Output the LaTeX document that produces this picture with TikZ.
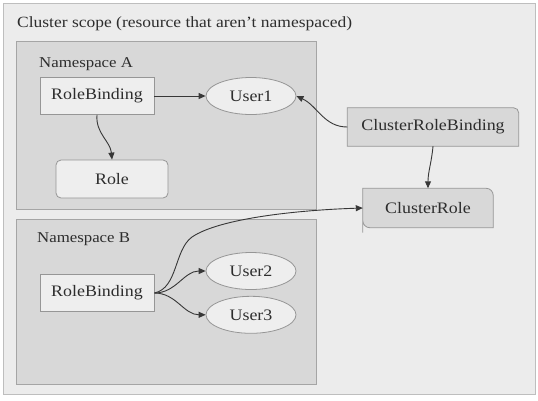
\documentclass[tikz,border=0pt]{standalone}
\usepackage{fontspec}
\setmainfont{Liberation Serif}[FakeStretch=1.12]
\usetikzlibrary{arrows.meta,positioning,shapes.geometric}
\definecolor{kbpage}{RGB}{236,236,236}
\definecolor{kbframe}{RGB}{190,190,190}
\definecolor{kbns}{RGB}{216,216,216}
\definecolor{kbnsedge}{RGB}{165,165,165}
\definecolor{kbnode}{RGB}{238,238,238}
\definecolor{kbcl}{RGB}{216,216,216}
\definecolor{kbedge}{RGB}{150,150,150}
\definecolor{kbarr}{RGB}{55,55,55}
\definecolor{kbtext}{RGB}{45,45,45}
\tikzset{
  kbbox/.style={
    draw=kbedge, line width=0.8pt, fill=kbnode, text=kbtext,
    align=center, inner sep=3pt, font=\fontsize{16}{18}\selectfont
  },
  bind/.style={kbbox, minimum width=114pt, minimum height=37pt},
  role/.style={kbbox, rounded corners=5pt, minimum width=112pt, minimum height=38pt},
  user/.style={kbbox, ellipse, minimum width=90pt, minimum height=37pt, inner sep=0pt},
  cl/.style={font=\fontsize{16}{18}\selectfont, text=kbtext, inner sep=0pt},
  clshape/.style={draw=kbedge, line width=0.8pt, fill=kbcl},
  ns/.style={draw=kbnsedge, line width=0.8pt, fill=kbns},
  lbl/.style={font=\fontsize{15}{17}\selectfont, text=kbtext, anchor=west, inner sep=0pt},
  arr/.style={-{Triangle[length=7pt,width=6pt]}, draw=kbarr, line width=0.9pt}
}
\begin{document}
\begin{tikzpicture}[x=1pt, y=-1pt]
  \useasboundingbox (0,0) rectangle (538,400);
  \fill[white] (0,0) rectangle (538,400);
  \filldraw[fill=kbpage, draw=kbframe, line width=1pt] (3,3) rectangle (535,394);
  \node[lbl, font=\fontsize{15.6}{17}\selectfont] (scope) at (17,24) {Cluster scope (resource that aren't namespaced)};

  % namespaces
  \filldraw[ns] (16,41) rectangle (316,209);
  \node[lbl] (nsA) at (39,64) {Namespace A};
  \filldraw[ns] (16,219) rectangle (316,384);
  \node[lbl] (nsB) at (37,239) {Namespace B};

  % namespace A
  \node[bind] (rbA) at (97,96) {RoleBinding};
  \node[user] (user1) at (251,96) {User1};
  \node[role] (role) at (112,179) {Role};

  % namespace B
  \node[bind] (rbB) at (97,293) {RoleBinding};
  \node[user] (user2) at (251,271) {User2};
  \node[user, below=6pt of user2] (user3) {User3};

  % cluster level
  \node[cl, minimum width=171pt, minimum height=38pt] (crb) at (433,127) {ClusterRoleBinding};
  \node[cl, minimum width=130pt, minimum height=39pt] (cr) at (428,208) {ClusterRole};
  \filldraw[clshape] (crb.south west) -- (crb.north west)
    -- ([xshift=-5pt]crb.north east) arc[start angle=90, end angle=0, radius=5pt]
    -- (crb.south east) -- cycle;
  \filldraw[clshape] ([yshift=-5pt]cr.south west) -- (cr.north west)
    -- ([xshift=-7pt]cr.north east) arc[start angle=90, end angle=0, radius=7pt]
    -- (cr.south east) -- ([xshift=7pt]cr.south west) arc[start angle=270, end angle=180, radius=7pt] -- cycle;
  \node[cl] at (crb) {ClusterRoleBinding};
  \node[cl] at (cr) {ClusterRole};

  % bindings
  \draw[arr] (rbA) -- (user1);
  \draw[arr] (rbA.south) to[out=-95, in=95] (role.north);
  \draw[arr] (crb.west) to[out=180, in=-25] (user1.east);
  \draw[arr] (crb.south) to[out=-95, in=90] (cr.north);
  \draw[arr] (rbB.east) to[out=0, in=180] (user2.west);
  \draw[arr] (rbB.east) to[out=0, in=180] (user3.west);
  \draw[arr] (rbB.east) .. controls (178,288) and (174,250) .. (192,237)
    .. controls (220,218) and (300,210) .. (cr.west);
\end{tikzpicture}
\end{document}
